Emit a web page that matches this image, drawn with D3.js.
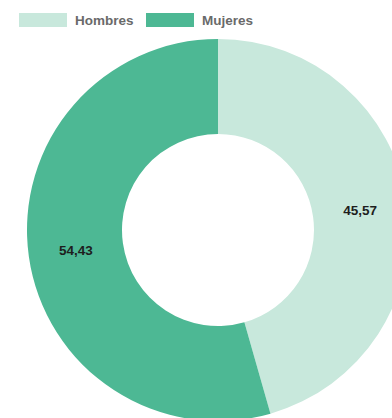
<!DOCTYPE html>
<html>
<head>
<meta charset="utf-8">
<script src="https://cdn.jsdelivr.net/npm/d3@7"></script>
<style>
  body { margin: 0; background: #fff; overflow: hidden; }
  text { font-family: "Liberation Sans", Arial, sans-serif; font-weight: bold; }
</style>
</head>
<body>
<div id="chart"></div>
<script>
var categories = ["Hombres", "Mujeres"];
var values = [45.57, 54.43];
var colors = ["#c8e8dc", "#4db894"];

var width = 392, height = 418;
var cx = 218, cy = 230, outerR = 191, innerR = 96;

var svg = d3.select("#chart")
  .append("svg")
    .attr("width", width)
    .attr("height", height);

var data = categories.map(function(c, i) { return {name: c, value: values[i]}; });

var color = d3.scaleOrdinal()
  .domain(categories)
  .range(colors);

var pie = d3.pie()
  .sort(null)
  .value(function(d) { return d.value; });

var arc = d3.arc()
  .innerRadius(innerR)
  .outerRadius(outerR);

var g = svg.append("g")
  .attr("transform", "translate(" + cx + "," + cy + ")");

g.selectAll("path")
  .data(pie(data))
  .enter()
  .append("path")
    .attr("d", arc)
    .attr("fill", function(d) { return color(d.data.name); });

// value labels at the centroid of each slice
g.selectAll("text.val")
  .data(pie(data))
  .enter()
  .append("text")
    .attr("class", "val")
    .attr("transform", function(d) { return "translate(" + arc.centroid(d) + ")"; })
    .attr("text-anchor", "middle")
    .attr("dy", "0.35em")
    .style("font-size", "13.5px")
    .style("fill", "#1e1e1e")
    .text(function(d) { return d3.format(".2f")(d.data.value).replace(".", ","); });

// legend
var legendX = d3.scaleOrdinal()
  .domain(categories)
  .range([19, 146]);

var legend = svg.selectAll("g.legend")
  .data(categories)
  .enter()
  .append("g")
    .attr("class", "legend")
    .attr("transform", function(d) { return "translate(" + legendX(d) + ",13)"; });

legend.append("rect")
  .attr("width", 48)
  .attr("height", 14)
  .attr("fill", function(d) { return color(d); });

legend.append("text")
  .attr("x", 56)
  .attr("y", 7)
  .attr("dy", "0.35em")
  .style("font-size", "13.5px")
  .style("fill", "#6a6a6a")
  .text(function(d) { return d; });
</script>
</body>
</html>
